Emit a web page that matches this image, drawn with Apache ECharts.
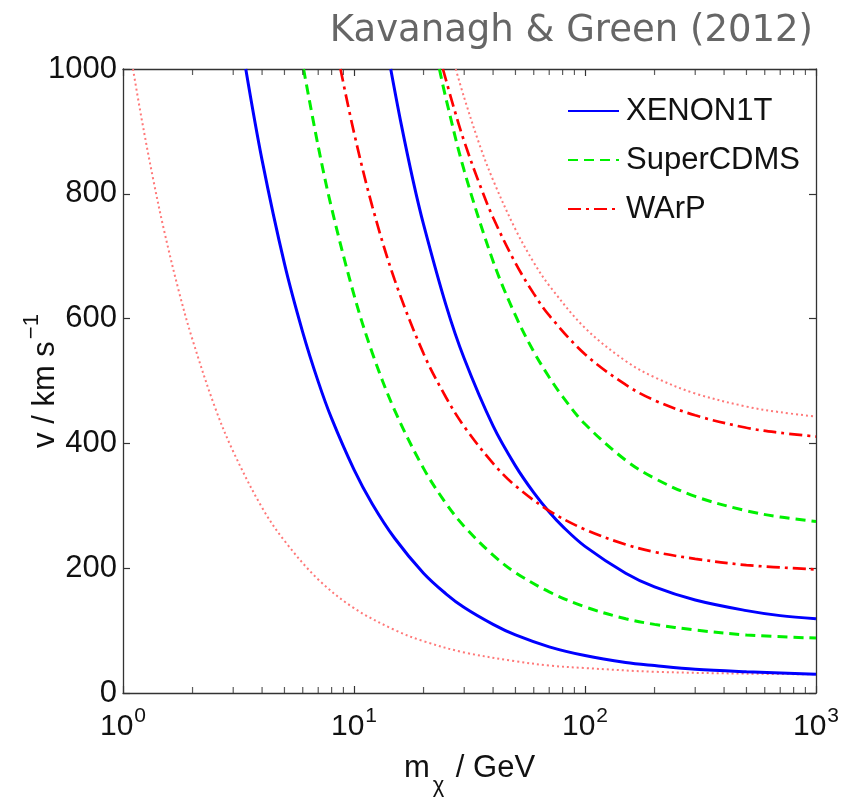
<!DOCTYPE html>
<html>
<head>
<meta charset="utf-8">
<script src="https://cdn.jsdelivr.net/npm/echarts@6/dist/echarts.min.js"></script>
<style>
html,body{margin:0;padding:0;background:#fff;}
#chart{width:855px;height:797px;}
</style>
</head>
<body>
<div id="chart"></div>
<script>
// ---- data (m_chi in GeV, v in km/s) ----
const xTickValues = [1, 10, 100, 1000];
const yTickValues = [0, 200, 400, 600, 800, 1000];
const legendNames = ['XENON1T', 'SuperCDMS', 'WArP'];

const dotLowM  = [1.105,1.2,1.35,1.5,1.75,2,2.5,3,4,5,7,10,15,20,30,50,70,100,200,500,1000];
const dotLowV  = [1000,923,824,744,642,566,458,387,297,244,182,136,101,83,65,51,44,40,34,31,30];

const xenonLowM = [3.4,4,5,6,7,8,10,12,15,20,25,30,40,50,70,100,150,200,300,500,1000];
const xenonLowV = [1000,854,688,578,499,440,358,303,248,192,159,137,110,93,74,60,49,44,38,34,30];

const xenonHighM = [14.42,16,18,20,25,30,40,50,60,70,80,100,150,200,300,500,700,1000];
const xenonHighV = [1000,912,822,751,622,536,428,364,321,290,267,235,192,170,149,132,124,119];

const cdmsLowM = [6.05,7,8,10,12,15,20,25,30,40,50,70,100,150,200,300,500,1000];
const cdmsLowV = [1000,876,777,638,545,453,360,304,267,221,193,162,138,119,110,101,93,88];

const cdmsHighM = [23.43,25,30,40,50,60,70,80,100,150,200,300,500,700,1000];
const cdmsHighV = [1000,953,837,692,605,547,506,475,431,373,344,315,292,282,275];

const warpLowM = [8.74,10,12,15,20,25,30,40,50,70,100,150,200,300,500,1000];
const warpLowV = [1000,898,780,662,544,474,427,368,332,292,262,238,226,215,205,198];

const warpHighM = [24.26,27,30,35,40,50,60,70,100,150,200,300,500,700,1000];
const warpHighV = [1000,939,884,815,762,689,640,605,543,494,469,445,425,417,411];

const dotHighM = [27.57,30,35,40,50,60,70,100,150,200,300,500,700,1000];
const dotHighV = [1000,954,878,822,743,690,653,585,532,506,480,459,450,443];

// ---- helpers ----
function zip(a, b) { return a.map((x, i) => [x, b[i]]); }
const FONT = 'Liberation Sans, Arial, Helvetica, sans-serif';
const AXIS_COLOR = '#333';
const TEXT_COLOR = '#111';

// minor tick positions on the log axis (2..9 x each decade)
const minorTicks = [];
for (let d = 1; d < 1000; d *= 10) {
  for (let k = 2; k <= 9; k++) minorTicks.push(k * d);
}

const blueStyle  = { color: '#0000ff', width: 3, type: 'solid' };
const greenStyle = { color: '#00f000', width: 3, type: [10, 6] };
const redStyle   = { color: '#ff0000', width: 2.7, type: [13, 5, 3, 5] };
const dotStyle   = { color: '#ff7878', width: 2, type: [2, 3] };

function curve(name, m, v, style) {
  return {
    name: name, type: 'line', data: zip(m, v),
    xAxisIndex: 0, yAxisIndex: 0,
    showSymbol: false, symbol: 'none',
    smooth: 0.35,
    lineStyle: style, itemStyle: { color: style.color },
    emphasis: { disabled: true }, z: 3
  };
}

const chart = echarts.init(document.getElementById('chart'), null, { renderer: 'canvas' });

const axisLabelRich = {
  b: { fontSize: 30, fontFamily: FONT, color: TEXT_COLOR, lineHeight: 36, verticalAlign: 'bottom' },
  s: { fontSize: 21, fontFamily: FONT, color: TEXT_COLOR, lineHeight: 22, verticalAlign: 'top', padding: [0, 0, 0, 1] }
};

const option = {
  backgroundColor: '#fff',
  animation: false,
  title: {
    text: 'Kavanagh & Green (2012)',
    right: 37, top: 8,
    textStyle: { fontFamily: 'DejaVu Sans, Verdana, sans-serif', fontSize: 37, fontWeight: 'normal', color: '#666' }
  },
  grid: { left: 123, right: 39, top: 69, bottom: 104, containLabel: false, outerBoundsMode: 'none' },
  legend: {
    data: legendNames,
    orient: 'vertical',
    left: 562, top: 89,
    itemWidth: 51, itemHeight: 14, itemGap: 15,
    itemStyle: { opacity: 0, borderWidth: 0 },
    textStyle: { fontFamily: FONT, fontSize: 31, color: TEXT_COLOR, lineHeight: 34, padding: [0, 0, 0, 2] },
    selectedMode: false
  },
  xAxis: [
    {
      type: 'log', logBase: 10, min: 1, max: 1000, position: 'bottom',
      axisLine: { show: true, onZero: false, lineStyle: { color: AXIS_COLOR, width: 1.3 } },
      axisTick: { show: true, inside: true, length: 7, lineStyle: { color: AXIS_COLOR, width: 1.2 } },
      splitLine: { show: false },
      minorTick: { show: false },
      axisLabel: {
        margin: 13,
        formatter: function (val) {
          const e = Math.round(Math.log10(val));
          return '{b|10}{s|' + e + '}';
        },
        rich: axisLabelRich
      },
      name: '{a|m}{sub|χ}{a| / GeV}',
      nameLocation: 'middle', nameGap: 60,
      nameTextStyle: {
        rich: {
          a: { fontSize: 31, fontFamily: FONT, color: TEXT_COLOR, lineHeight: 32, verticalAlign: 'top' },
          sub: { fontSize: 22, fontFamily: FONT, color: TEXT_COLOR, lineHeight: 44, verticalAlign: 'bottom', padding: [0, 3, 0, 3] }
        }
      }
    },
    {
      type: 'log', logBase: 10, min: 1, max: 1000, position: 'top',
      axisLine: { show: true, onZero: false, lineStyle: { color: AXIS_COLOR, width: 1.3 } },
      axisTick: { show: true, inside: true, length: 7, lineStyle: { color: AXIS_COLOR, width: 1.2 } },
      axisLabel: { show: false }, splitLine: { show: false }
    }
  ],
  yAxis: [
    {
      type: 'value', min: 0, max: 1000, interval: 200, position: 'left',
      axisLine: { show: true, onZero: false, lineStyle: { color: AXIS_COLOR, width: 1.3 } },
      axisTick: { show: true, inside: true, length: 7, lineStyle: { color: AXIS_COLOR, width: 1.2 } },
      splitLine: { show: false },
      axisLabel: { margin: 6, fontSize: 31, fontFamily: FONT, color: TEXT_COLOR, formatter: function (v) { return String(v); } },
      name: '{a|v / km s}{s|−1}',
      nameLocation: 'middle', nameGap: 62, nameRotate: 90, nameMoveOverlap: false,
      nameTextStyle: {
        rich: {
          a: { fontSize: 31, fontFamily: FONT, color: TEXT_COLOR, lineHeight: 40, verticalAlign: 'bottom' },
          s: { fontSize: 22, fontFamily: FONT, color: TEXT_COLOR, lineHeight: 22, verticalAlign: 'top', padding: [0, 0, 0, 2] }
        }
      }
    },
    {
      type: 'value', min: 0, max: 1000, interval: 200, position: 'right',
      axisLine: { show: true, onZero: false, lineStyle: { color: AXIS_COLOR, width: 1.3 } },
      axisTick: { show: true, inside: true, length: 7, lineStyle: { color: AXIS_COLOR, width: 1.2 } },
      axisLabel: { show: false }, splitLine: { show: false }
    }
  ],
  series: [
    curve('lowbound', dotLowM, dotLowV, dotStyle),
    curve('highbound', dotHighM, dotHighV, dotStyle),
    curve('XENON1T', xenonLowM, xenonLowV, blueStyle),
    curve('XENON1T', xenonHighM, xenonHighV, blueStyle),
    curve('SuperCDMS', cdmsLowM, cdmsLowV, greenStyle),
    curve('SuperCDMS', cdmsHighM, cdmsHighV, greenStyle),
    curve('WArP', warpLowM, warpLowV, redStyle),
    curve('WArP', warpHighM, warpHighV, redStyle),
    {
      name: 'minorBottom', type: 'scatter', silent: true,
      data: minorTicks.map(m => [m, 0]),
      symbol: 'rect', symbolSize: [1.2, 6], symbolOffset: [0, -3],
      itemStyle: { color: AXIS_COLOR }, clip: false, z: 5
    },
    {
      name: 'minorTop', type: 'scatter', silent: true,
      data: minorTicks.map(m => [m, 1000]),
      symbol: 'rect', symbolSize: [1.2, 6], symbolOffset: [0, 3],
      itemStyle: { color: AXIS_COLOR }, clip: false, z: 5
    }
  ]
};

chart.setOption(option);
</script>
</body>
</html>
